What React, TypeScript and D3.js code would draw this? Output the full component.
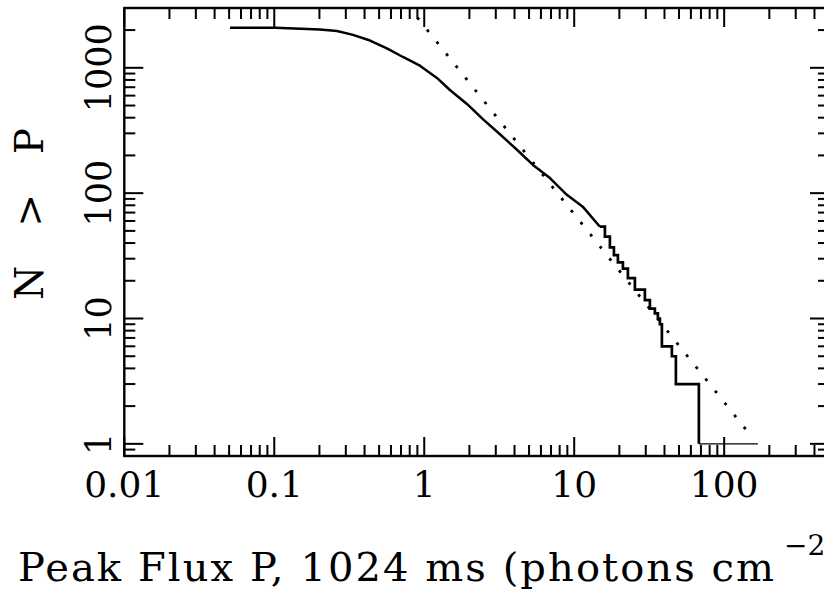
import React from "react";
import * as d3 from "d3";

// Canvas and plot frame
const W = 824;
const H = 597;
const FRAME = { left: 124.3, right: 829, top: 8, bottom: 456 };

// Axis domains and labelled ticks
const xDomain = [0.01, 500];
const yDomain = [0.8, 3000];
const xTickValues = [0.01, 0.1, 1, 10, 100];
const xTickLabels = ["0.01", "0.1", "1", "10", "100"];
const yTickValues = [1, 10, 100, 1000];
const yTickLabels = ["1", "10", "100", "1000"];

// Integral peak-flux distribution: smooth upper part
const headFlux = [
  0.0507, 0.101, 0.2016, 0.262, 0.335, 0.435, 0.564, 0.721, 0.936, 1.215,
  1.483, 1.926, 2.46, 3.197, 4.15, 5.31, 6.89, 8.93, 11.4, 14.84,
];
const headCount = [
  2090, 2090, 2024, 1963, 1830, 1650, 1430, 1220, 1040, 830,
  665, 515, 390, 295, 222, 168, 132, 97, 78, 54,
];

// Bright-end staircase (count holds until the next flux)
const tailFlux = [
  14.84, 16.02, 17.3, 18.4, 19.56, 21.12, 22.8, 25.39, 29.6, 31.97,
  34.51, 36.14, 37.27, 38.43, 44.8, 47.64, 67.8,
];
const tailCount = [
  54, 45, 37, 32, 28, 25, 21, 17, 14, 12,
  11, 10, 9, 6, 5, 3, 1,
];

// Last single burst: N = 1 out to the brightest event
const lastFlux = [67.8, 167.8];
const lastCount = [1, 1];

// Euclidean -3/2 reference line
const fitFlux = [0.9, 144];
const fitCount = [2518, 1.244];

const FONT = "'DejaVu Serif', serif";

export default function App() {
  const x = d3.scaleLog().domain(xDomain).range([FRAME.left, FRAME.right]);
  const y = d3.scaleLog().domain(yDomain).range([FRAME.bottom, FRAME.top]);

  const pts = (xs: number[], ys: number[]) => xs.map((v, i) => [v, ys[i]] as [number, number]);

  const lin = d3
    .line<[number, number]>()
    .x((d) => x(d[0]))
    .y((d) => y(d[1]));
  const step = d3
    .line<[number, number]>()
    .x((d) => x(d[0]))
    .y((d) => y(d[1]))
    .curve(d3.curveStepAfter);

  const headPath = lin(pts(headFlux, headCount)) || "";
  const tailPath = step(pts(tailFlux, tailCount)) || "";
  const lastPath = lin(pts(lastFlux, lastCount)) || "";
  const fitPath = lin(pts(fitFlux, fitCount)) || "";

  const isMajor = (v: number) => Math.abs(Math.log10(v) - Math.round(Math.log10(v))) < 1e-9;

  const xTicks = x.ticks().filter((v) => v >= xDomain[0] && v <= xDomain[1]);
  const yTicks = y.ticks().filter((v) => v >= yDomain[0] && v <= yDomain[1]);

  const MAJ = 19;
  const MIN = 11;

  return (
    <svg
      width={W}
      height={H}
      style={{ position: "absolute", left: 0, top: 0, background: "#fff" }}
    >
      <rect x={0} y={0} width={W} height={H} fill="#fff" />

      {/* frame */}
      <rect
        x={FRAME.left}
        y={FRAME.top}
        width={FRAME.right - FRAME.left}
        height={FRAME.bottom - FRAME.top}
        fill="none"
        stroke="#000"
        strokeWidth={2.4}
      />

      {/* x ticks, bottom and top */}
      {xTicks.map((v, i) => {
        const len = isMajor(v) ? MAJ : MIN;
        const px = x(v);
        return (
          <g key={`xt${i}`} stroke="#000" strokeWidth={2}>
            <line x1={px} x2={px} y1={FRAME.bottom} y2={FRAME.bottom - len} />
            <line x1={px} x2={px} y1={FRAME.top} y2={FRAME.top + len} />
          </g>
        );
      })}

      {/* y ticks, left and right */}
      {yTicks.map((v, i) => {
        const len = isMajor(v) ? MAJ : MIN;
        const py = y(v);
        return (
          <g key={`yt${i}`} stroke="#000" strokeWidth={2}>
            <line x1={FRAME.left} x2={FRAME.left + len} y1={py} y2={py} />
            <line x1={FRAME.right} x2={FRAME.right - len} y1={py} y2={py} />
          </g>
        );
      })}

      {/* x tick labels */}
      {xTickValues.map((v, i) => (
        <text
          key={`xl${i}`}
          x={x(v)}
          y={497}
          textAnchor="middle"
          fontFamily={FONT}
          fontSize={36}
          fill="#000"
        >
          {xTickLabels[i]}
        </text>
      ))}

      {/* y tick labels, vertical */}
      {yTickValues.map((v, i) => (
        <text
          key={`yl${i}`}
          transform={`translate(111, ${y(v)}) rotate(-90)`}
          textAnchor="middle"
          fontFamily={FONT}
          fontSize={35}
          fill="#000"
        >
          {yTickLabels[i]}
        </text>
      ))}

      {/* axis titles */}
      <text
        x={18}
        y={581}
        fontFamily={FONT}
        fontSize={40}
        fill="#000"
        textLength={756}
        lengthAdjust="spacing"
      >
        Peak Flux P, 1024 ms (photons cm
      </text>
      <text x={784} y={555} fontFamily={FONT} fontSize={28} fill="#000">
        −2
      </text>
      <text
        transform="translate(43, 214) rotate(-90)"
        x={-86}
        fontFamily={FONT}
        fontSize={39}
        fill="#000"
        textLength={172}
        lengthAdjust="spacing"
      >
        N &gt; P
      </text>

      {/* power-law reference */}
      <path
        d={fitPath}
        fill="none"
        stroke="#000"
        strokeWidth={2.8}
        strokeDasharray="2.8 12.6"
      />

      {/* integral distribution */}
      <path d={headPath} fill="none" stroke="#000" strokeWidth={2.5} strokeLinejoin="round" />
      <path d={tailPath} fill="none" stroke="#000" strokeWidth={2.7} />
      <path d={lastPath} fill="none" stroke="#000" strokeWidth={1.4} />
    </svg>
  );
}
